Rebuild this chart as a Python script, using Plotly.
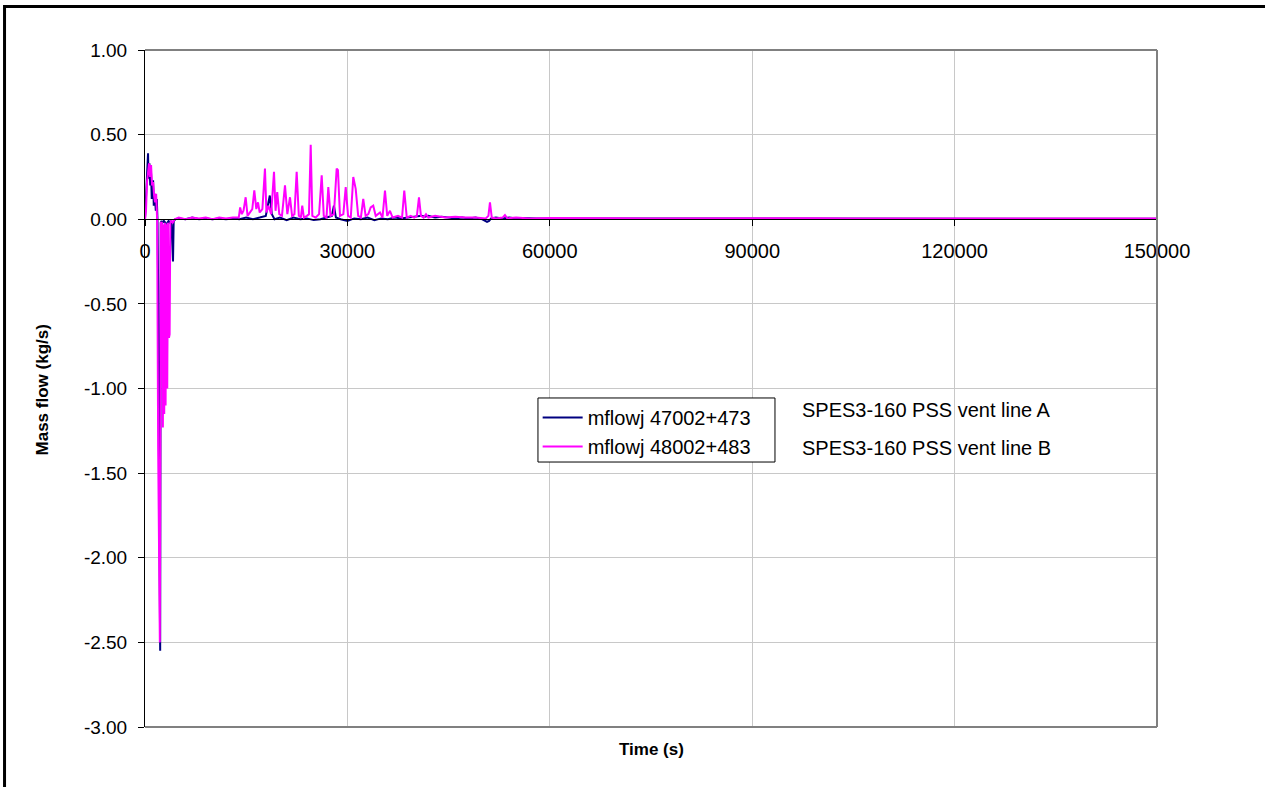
import plotly.graph_objects as go

# Time axis (s) and mass flow (kg/s) for PSS vent line A (junction 47002+473)
t_a = [
    0, 120, 250, 380, 450, 520, 650, 780, 900, 1000,
    1100, 1200, 1300, 1450, 1600, 1750, 1850, 1950, 2100, 2250,
    2330, 2450, 2600, 2800, 3000, 3150, 3250, 3330, 3500, 3700,
    3900, 4050, 4150, 4250, 4500, 5000, 6000, 7000, 8000, 9000,
    10000, 11000, 12000, 13000, 14000, 15000, 16000, 17000, 17900, 18200,
    18500, 18800, 19200, 20000, 21000, 22000, 23000, 24000, 25000, 26000,
    27000, 27700, 28000, 28300, 29000, 30000, 31000, 32000, 33000, 34000,
    35000, 36000, 37000, 38000, 39000, 40000, 41000, 41500, 42000, 42500,
    43000, 44000, 45000, 46000, 47000, 48000, 49000, 50000, 50700, 51000,
    51300, 52000, 53000, 54000, 55000, 56000, 58000, 60000, 65000, 70000,
    75000, 80000, 85000, 90000, 95000, 100000, 105000, 110000, 115000, 120000,
    125000, 130000, 135000, 140000, 145000, 150000,
]
flow_a = [
    0.00, 0.10, 0.22, 0.30, 0.39, 0.24, 0.33, 0.20, 0.27, 0.12,
    0.20, 0.23, 0.08, 0.15, 0.05, 0.12, 0.00, -0.40, -1.60, -2.55,
    -0.02, -0.01, -0.02, -0.01, -0.02, -0.60, -0.93, -0.02, -0.01, -0.02,
    -0.01, -0.15, -0.25, -0.01, 0.00, 0.005, 0.00, 0.01, 0.00, 0.005,
    0.00, 0.005, 0.00, 0.005, 0.00, 0.01, 0.00, 0.01, 0.02, 0.08,
    0.14, 0.03, 0.00, 0.01, -0.005, 0.01, 0.00, 0.005, -0.005, 0.00,
    0.01, 0.02, 0.08, 0.01, 0.00, -0.01, 0.005, 0.00, 0.01, -0.005,
    0.005, 0.00, 0.01, 0.005, 0.01, 0.015, 0.02, 0.015, 0.02, 0.015,
    0.01, 0.015, 0.01, 0.005, 0.01, 0.005, 0.01, 0.00, -0.015, -0.01,
    0.005, 0.01, 0.005, 0.01, 0.005, 0.008, 0.005, 0.005, 0.004, 0.006,
    0.004, 0.005, 0.003, 0.005, 0.004, 0.003, 0.005, 0.004, 0.003, 0.004,
    0.003, 0.004, 0.003, 0.003, 0.004, 0.003,
]

# Time axis (s) and mass flow (kg/s) for PSS vent line B (junction 48002+483)
t_b = [
    0, 150, 300, 450, 600, 750, 900, 1050, 1200, 1350,
    1500, 1650, 1800, 1950, 2200, 2350, 2500, 2650, 2750, 2850,
    2950, 3050, 3200, 3300, 3400, 3550, 3650, 3750, 3900, 4100,
    4400, 5000, 6000, 7000, 8000, 9000, 10000, 11000, 12000, 13000,
    13900, 14100, 14350, 14600, 14920, 15200, 15500, 15900, 16200, 16500,
    16750, 17000, 17400, 17780, 18000, 18300, 18700, 19120, 19350, 19600,
    19900, 20300, 20750, 21100, 21490, 21800, 22150, 22480, 22800, 23100,
    23310, 23550, 24000, 24300, 24560, 24800, 25300, 25800, 26190, 26500,
    26900, 27170, 27500, 28000, 28410, 28600, 28900, 29400, 29750, 30100,
    30500, 30870, 31230, 31600, 32000, 32350, 32700, 33100, 33450, 33830,
    34200, 34830, 35200, 35570, 35900, 36310, 36700, 37500, 38100, 38430,
    38800, 39380, 39900, 40300, 40610, 40900, 41300, 41650, 42000, 43000,
    44500, 46000, 47500, 49000, 50500, 50900, 51130, 51400, 52000, 53000,
    53350, 53700, 55000, 57000, 60000, 65000, 70000, 75000, 80000, 85000,
    90000, 95000, 100000, 105000, 110000, 115000, 120000, 125000, 130000, 135000,
    140000, 145000, 150000,
]
flow_b = [
    0.00, 0.05, 0.22, 0.30, 0.33, 0.25, 0.32, 0.20, 0.22, 0.14,
    0.10, 0.15, 0.00, -1.35, -2.50, -0.02, -0.02, -1.23, -0.03, -1.15,
    -0.02, -1.10, -0.03, -1.00, -0.02, -0.70, -0.68, -0.02, -0.01, -0.02,
    0.00, 0.01, 0.00, 0.01, 0.005, 0.01, 0.00, 0.01, 0.005, 0.01,
    0.01, 0.07, 0.03, 0.05, 0.13, 0.02, 0.04, 0.06, 0.17, 0.06,
    0.10, 0.04, 0.06, 0.30, 0.04, 0.08, 0.03, 0.28, 0.05, 0.16,
    0.03, 0.02, 0.20, 0.03, 0.13, 0.02, 0.03, 0.28, 0.02, 0.01,
    0.08, 0.01, 0.02, 0.03, 0.44, 0.02, 0.01, 0.03, 0.26, 0.02,
    0.01, 0.19, 0.02, 0.03, 0.30, 0.29, 0.02, 0.03, 0.19, 0.02,
    0.01, 0.25, 0.18, 0.02, 0.01, 0.12, 0.02, 0.03, 0.07, 0.08,
    0.02, 0.04, 0.01, 0.17, 0.02, 0.05, 0.01, 0.02, 0.01, 0.17,
    0.01, 0.02, 0.01, 0.02, 0.13, 0.02, 0.01, 0.03, 0.01, 0.02,
    0.01, 0.015, 0.01, 0.01, 0.005, 0.02, 0.10, 0.01, 0.005, 0.01,
    0.025, 0.005, 0.01, 0.005, 0.008, 0.005, 0.006, 0.005, 0.006, 0.005,
    0.006, 0.005, 0.006, 0.005, 0.005, 0.006, 0.005, 0.005, 0.006, 0.005,
    0.005, 0.006, 0.005,
]

series_names = ["mflowj 47002+473", "mflowj 48002+483"]
series_notes = ["SPES3-160 PSS vent line A", "SPES3-160 PSS vent line B"]

x_tick_vals = [0, 30000, 60000, 90000, 120000, 150000]
x_tick_text = ["0", "30000", "60000", "90000", "120000", "150000"]
y_tick_vals = [1.0, 0.5, 0.0, -0.5, -1.0, -1.5, -2.0, -2.5, -3.0]
y_tick_text = ["1.00", "0.50", "0.00", "-0.50", "-1.00", "-1.50", "-2.00", "-2.50", "-3.00"]

FONT = "Arial, Liberation Sans, sans-serif"

fig = go.Figure()
fig.add_trace(go.Scatter(x=t_a, y=flow_a, mode="lines", name=series_names[0],
                         line=dict(color="#000080", width=2)))
fig.add_trace(go.Scatter(x=t_b, y=flow_b, mode="lines", name=series_names[1],
                         line=dict(color="#ff00ff", width=2)))

fig.update_layout(
    width=1265, height=787,
    margin=dict(l=145, r=108, t=50, b=60),
    paper_bgcolor="white", plot_bgcolor="white",
    font=dict(family=FONT, size=20, color="black"),
    showlegend=True,
    legend=dict(x=0.388, y=0.486, xanchor="left", yanchor="top",
                bgcolor="rgba(0,0,0,0)", borderwidth=0,
                font=dict(size=20), itemwidth=40, tracegroupgap=0),
    xaxis=dict(range=[0, 150000], tickvals=x_tick_vals, ticktext=x_tick_text,
               anchor="free", position=0.75,
               showline=True, linecolor="black", linewidth=1,
               ticks="outside", ticklen=6, tickcolor="black",
               ticklabelstandoff=8,
               showgrid=True, gridcolor="#c8c8c8", gridwidth=1,
               zeroline=False),
    yaxis=dict(range=[-3, 1], tickvals=y_tick_vals, ticktext=y_tick_text,
               tickfont=dict(size=19),
               showline=True, linecolor="black", linewidth=1,
               ticks="outside", ticklen=6, tickcolor="black",
               ticklabelstandoff=7,
               showgrid=True, gridcolor="#c8c8c8", gridwidth=1,
               zeroline=False),
)

# Plot-area frame (top, right, bottom) and outer chart frame
frame = dict(color="#808080", width=2)
fig.add_shape(type="line", xref="paper", yref="paper", x0=0, x1=1, y0=1, y1=1, line=frame)
fig.add_shape(type="line", xref="paper", yref="paper", x0=1, x1=1, y0=0, y1=1, line=frame)
fig.add_shape(type="line", xref="paper", yref="paper", x0=0, x1=1, y0=0, y1=0, line=frame)
fig.add_shape(type="rect", xref="paper", yref="paper",
              x0=-0.1388, x1=1.2, y0=-0.2, y1=1.0643,
              line=dict(color="black", width=3), fillcolor="rgba(0,0,0,0)")

# Legend box behind the legend entries
fig.add_shape(type="rect", xref="paper", yref="paper", layer="above",
              x0=0.3883, x1=0.6225, y0=0.3914, y1=0.486,
              line=dict(color="black", width=1), fillcolor="white")

# Axis titles
fig.add_annotation(text="<b>Time (s)</b>", xref="paper", yref="paper",
                   x=0.5, y=-0.0502, showarrow=False, font=dict(size=17))
fig.add_annotation(text="<b>Mass flow (kg/s)</b>", xref="paper", yref="paper",
                   x=-0.1117, y=0.4978, showarrow=False, textangle=-90,
                   font=dict(size=17))

# Series descriptions beside the legend
fig.add_annotation(text=series_notes[0], xref="paper", yref="paper",
                   x=0.6472, y=0.468, xanchor="left", showarrow=False)
fig.add_annotation(text=series_notes[1], xref="paper", yref="paper",
                   x=0.6472, y=0.412, xanchor="left", showarrow=False)

fig.write_html("out.html")
